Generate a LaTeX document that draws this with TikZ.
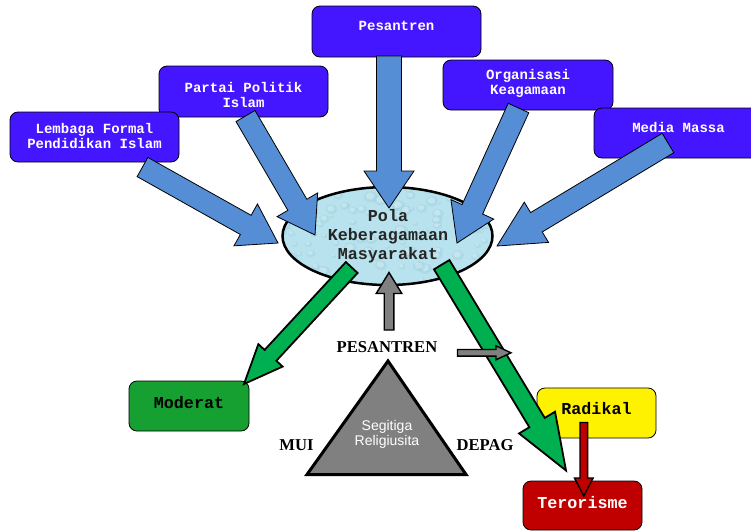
\documentclass[tikz,border=0pt]{standalone}
\usepackage{fontspec}
\usetikzlibrary{calc}
\newfontfamily\fMono{Liberation Mono}
\newfontfamily\fSerif{Liberation Serif}
\newfontfamily\fSans{Liberation Sans}
\definecolor{boxblue}{RGB}{68,22,255}
\definecolor{arrblue}{RGB}{85,142,213}
\definecolor{boxgreen}{RGB}{23,160,50}
\definecolor{arrgreen}{RGB}{0,176,80}
\definecolor{terred}{RGB}{192,0,0}
\definecolor{midgray}{RGB}{128,128,128}
\definecolor{ellfill}{RGB}{184,226,237}
\definecolor{dropdark}{RGB}{150,204,220}
\tikzset{
  bluebox/.style={draw=black, line width=0.8pt, fill=boxblue, rounded corners=8pt, inner sep=0pt},
  lowbox/.style={draw=black, line width=0.8pt, rounded corners=8pt, inner sep=0pt, minimum width=120pt, minimum height=50pt},
  boxtxt/.style={text=white, font=\fMono\bfseries\fontsize{14}{15}\selectfont, align=center, inner sep=0pt},
  bigtxt/.style={font=\fMono\bfseries\fontsize{16.7}{18.8}\selectfont, align=center, inner sep=0pt},
  lbl/.style={font=\fSerif\bfseries\fontsize{16.6}{18}\selectfont, inner sep=0pt},
  barrow/.style={draw=black, line width=0.8pt, fill=arrblue, line join=miter},
  garrow/.style={draw=black, line width=1.8pt, fill=arrgreen, line join=miter},
  grarrow/.style={draw=black, line width=1.4pt, fill=midgray, line join=miter},
  rarrow/.style={draw=black, line width=1.4pt, fill=terred, line join=miter}
}
% block arrow: style, tail, tip, shaft half width, head half width, head length
\newcommand\blockarrow[6]{%
  \coordinate (bh) at ($(#3)!#6!(#2)$);
  \draw[#1] ($(#2)!#4!90:(#3)$) -- ($(bh)!#4!90:(#3)$) -- ($(bh)!#5!90:(#3)$) -- (#3)
    -- ($(bh)!#5!-90:(#3)$) -- ($(bh)!#4!-90:(#3)$) -- ($(#2)!#4!-90:(#3)$) -- cycle;}
\begin{document}
\begin{tikzpicture}[x=1pt,y=-1pt]
\clip (0,0) rectangle (751,531);
\fill[white] (0,0) rectangle (751,531);

% top boxes
\node[bluebox, minimum width=169pt, minimum height=51pt] (bpes) at (396.5,31.5) {};
\node[bluebox, minimum width=169pt, minimum height=51pt] (bpar) at (243.5,91.5) {};
\node[bluebox, minimum width=169pt, minimum height=50pt] (blem) at (94.5,137) {};
\node[bluebox, minimum width=170pt, minimum height=50pt] (borg) at (528,85) {};
\node[bluebox, minimum width=169pt, minimum height=50pt] (bmed) at (678.5,133) {};
\node[boxtxt] (tpes) at (396.5,26) {Pesantren};
\node[boxtxt] (tpar) at (243.5,94.7) {Partai Politik\\Islam};
\node[boxtxt] (tlem) at (94.5,135.5) {Lembaga Formal\\Pendidikan Islam};
\node[boxtxt] (torg) at (528,83.3) {Organisasi\\Keagamaan};
\node[boxtxt] (tmed) at (678.5,127.7) {Media Massa};

% ellipse with texture
\begin{scope}
  \clip (387.5,236) ellipse [x radius=105, y radius=49];
  \fill[ellfill] (280,185) rectangle (495,288);
  \pgfmathsetseed{11}
  \foreach \i in {1,...,110}{
    \pgfmathsetmacro\xx{282+rnd*212}
    \pgfmathsetmacro\yy{186+rnd*100}
    \pgfmathsetmacro\rr{2+rnd*5}
    \fill[dropdark, opacity=0.35] (\xx,\yy) ellipse [x radius=\rr, y radius=0.8*\rr];
    \fill[white, opacity=0.3] (\xx-0.8,\yy-0.8) ellipse [x radius=0.6*\rr, y radius=0.5*\rr];
  }
\end{scope}
\draw[line width=2.5pt] (387.5,236) ellipse [x radius=105, y radius=49];
\coordinate (ell) at (387.5,236);

% blue arrows
\coordinate (a1t) at (142.5,167); \coordinate (a1h) at (278,243);
\coordinate (a2t) at (245.5,116); \coordinate (a2h) at (315,235);
\coordinate (a3t) at (389,56);    \coordinate (a3h) at (389,208);
\coordinate (a4t) at (518.5,108); \coordinate (a4h) at (457,243);
\coordinate (a5t) at (668,143);   \coordinate (a5h) at (497,246);
\blockarrow{barrow}{a1t}{a1h}{11pt}{24pt}{37pt}
\blockarrow{barrow}{a2t}{a2h}{11pt}{23.5pt}{35pt}
\blockarrow{barrow}{a3t}{a3h}{12.5pt}{25pt}{37pt}
\blockarrow{barrow}{a4t}{a4h}{11.3pt}{23.5pt}{37pt}
\blockarrow{barrow}{a5t}{a5h}{11.3pt}{23.5pt}{46pt}

\node[bigtxt, text=black!85] (pola) at (388,236) {Pola\\Keberagamaan\\Masyarakat};

% lower boxes
\node[lowbox, fill=boxgreen] (bmod) at (189,406) {};
\node[lowbox, fill=yellow, minimum width=119pt] (brad) at (596.5,413) {};
\node[lowbox, fill=terred, minimum width=119pt, minimum height=49pt] (bter) at (582.5,505.5) {};
\node[bigtxt, text=black] (tmod) at (189,403) {Moderat};
\node[bigtxt, text=black] (trad) at (596.5,409) {Radikal};
\node[bigtxt, text=white] (tter) at (582.5,503) {Terorisme};

% green arrows
\coordinate (g1t) at (351.7,267.5); \coordinate (g1h) at (244,384);
\coordinate (g2t) at (441.7,264.7); \coordinate (g2h) at (566,470.5);
\blockarrow{garrow}{g1t}{g1h}{8pt}{16.5pt}{39pt}
\blockarrow{garrow}{g2t}{g2h}{9pt}{21pt}{56pt}

% triangle
\draw[line width=3pt, fill=midgray, line join=miter] (388,361) -- (466,474.5) -- (307,474.5) -- cycle;
\node[font=\fSans\fontsize{14}{15}\selectfont, text=white, align=center, inner sep=0pt] (tseg) at (387,434) {Segitiga\\Religiusita};
\node[lbl] (lpes) at (387,347) {PESANTREN};
\node[lbl] (lmui) at (296.5,445.5) {MUI};
\node[lbl] (ldep) at (485,445) {DEPAG};

% gray arrows
\coordinate (u1t) at (389,330); \coordinate (u1h) at (389,272.5);
\coordinate (r1t) at (457.5,352.8); \coordinate (r1h) at (511,352.8);
\blockarrow{grarrow}{u1t}{u1h}{4.8pt}{12.8pt}{21pt}
\blockarrow{grarrow}{r1t}{r1h}{3.3pt}{7pt}{15pt}

% red arrow
\coordinate (d1t) at (583.8,422.5); \coordinate (d1h) at (583.8,496);
\blockarrow{rarrow}{d1t}{d1h}{3.8pt}{9.3pt}{18pt}
\end{tikzpicture}
\end{document}
